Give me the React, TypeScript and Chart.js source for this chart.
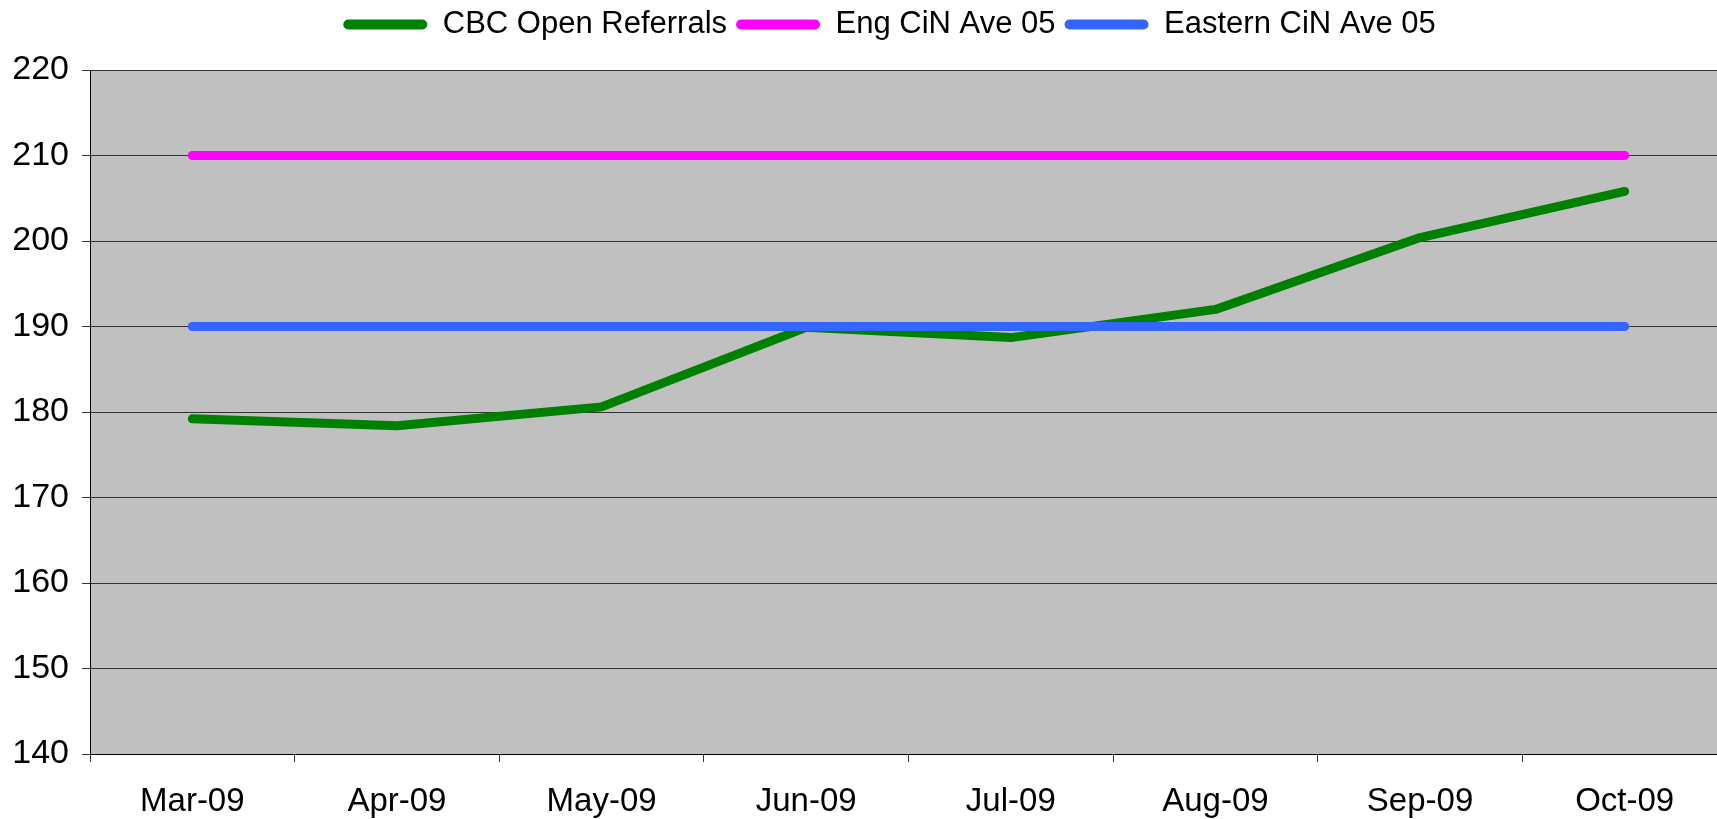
import React, { useEffect, useRef } from "react";
import { Chart, registerables } from "chart.js";

Chart.register(...registerables);

const categories = ["Mar-09", "Apr-09", "May-09", "Jun-09", "Jul-09", "Aug-09", "Sep-09", "Oct-09"];
const cbcOpenReferrals = [179.2, 178.4, 180.6, 189.9, 188.7, 192.0, 200.4, 205.8];
const engCiNAve05 = [210, 210, 210, 210, 210, 210, 210, 210];
const easternCiNAve05 = [190, 190, 190, 190, 190, 190, 190, 190];
const yMin = 140;
const yMax = 220;
const yStep = 10;

const FONT = "'Liberation Sans', Arial, Helvetica, sans-serif";

export default function App() {
  const ref = useRef<HTMLCanvasElement | null>(null);

  useEffect(() => {
    const canvas = ref.current;
    if (!canvas) return;

    const plotBg = {
      id: "plotBg",
      afterInit(chart: any) {
        const legend = chart.legend;
        if (legend) {
          const orig = legend.fit.bind(legend);
          legend.fit = function () {
            orig();
            this.height = 70;
          };
        }
      },
      beforeDraw(chart: any) {
        const { ctx, chartArea: a } = chart;
        ctx.save();
        ctx.fillStyle = "#C0C0C0";
        ctx.fillRect(a.left, a.top, a.right - a.left, a.bottom - a.top);
        ctx.restore();
      },
    };

    const common = {
      pointRadius: 0,
      pointHoverRadius: 0,
      borderWidth: 9,
      tension: 0,
      borderCapStyle: "round" as const,
      borderJoinStyle: "round" as const,
      fill: false,
    };

    const chart = new Chart(canvas, {
      type: "line",
      data: {
        labels: categories,
        datasets: [
          { ...common, label: "CBC Open Referrals", data: cbcOpenReferrals, borderColor: "#008000", backgroundColor: "#008000", order: 3 },
          { ...common, label: "Eng CiN Ave 05", data: engCiNAve05, borderColor: "#FF00FF", backgroundColor: "#FF00FF", order: 2 },
          { ...common, label: "Eastern CiN Ave 05", data: easternCiNAve05, borderColor: "#3366FF", backgroundColor: "#3366FF", order: 1 },
        ],
      },
      options: {
        animation: false,
        responsive: false,
        maintainAspectRatio: false,
        devicePixelRatio: 1,
        layout: { padding: 0 },
        plugins: {
          tooltip: { enabled: false },
          legend: {
            display: true,
            position: "top",
            labels: {
              font: { family: FONT, size: 31 },
              color: "#000",
              boxWidth: 84,
              boxHeight: 10,
              padding: 9,
              useBorderRadius: true,
              borderRadius: 5,
              sort: (a: any, b: any) => a.datasetIndex - b.datasetIndex,
              generateLabels: (chart: any) =>
                Chart.defaults.plugins.legend.labels.generateLabels(chart).map((l: any) => ({
                  ...l,
                  fillStyle: l.strokeStyle,
                  lineWidth: 0,
                })),
            },
          },
        },
        scales: {
          x: {
            type: "category",
            offset: true,
            grid: { offset: true, drawOnChartArea: false, drawTicks: true, tickLength: 8, color: "#333" },
            border: { display: true, color: "#000", width: 1 },
            ticks: { font: { family: FONT, size: 33 }, color: "#000", padding: 20, maxRotation: 0, minRotation: 0, autoSkip: false },
            afterFit: (s: any) => {
              s.height = 65;
            },
          },
          y: {
            type: "linear",
            min: yMin,
            max: yMax,
            ticks: { stepSize: yStep, font: { family: FONT, size: 34 }, color: "#000", padding: 13 },
            grid: { color: "#333", lineWidth: 1, tickLength: 8, drawTicks: true },
            border: { display: true, color: "#000", width: 1 },
            afterFit: (s: any) => {
              s.width = 90;
            },
          },
          yr: {
            type: "linear",
            position: "right",
            display: true,
            grid: { display: false, drawTicks: false },
            ticks: { display: false },
            border: { display: false },
            afterFit: (s: any) => {
              s.width = 52;
            },
          },
        },
      } as any,
      plugins: [plotBg],
    });

    return () => chart.destroy();
  }, []);

  return (
    <div
      style={{
        position: "fixed",
        left: 0,
        top: 0,
        width: 1717,
        height: 819,
        overflow: "hidden",
        background: "#fff",
      }}
    >
      <canvas ref={ref} width={1779} height={819} style={{ display: "block", width: 1779, height: 819 }} />
    </div>
  );
}
